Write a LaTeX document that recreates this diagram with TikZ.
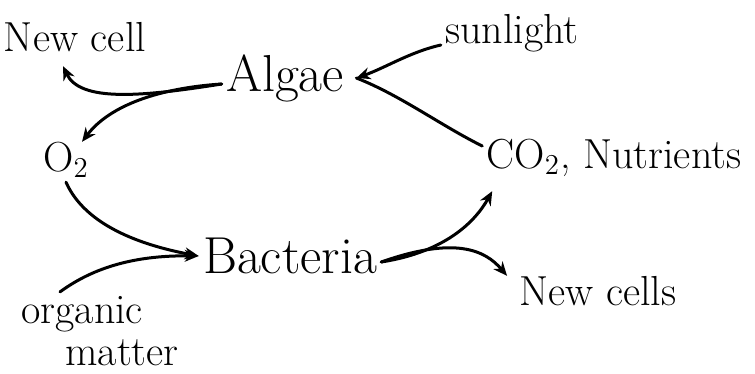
\documentclass[tikz,border=0pt]{standalone}
\usetikzlibrary{arrows.meta}
\begin{document}
\begin{tikzpicture}[x=0.5pt,y=-0.5pt,
  lbl/.style={font=\fontsize{21}{24}\selectfont, inner sep=2pt},
  biglbl/.style={font=\fontsize{26}{30}\selectfont, inner sep=2pt},
  flow/.style={line width=1.5pt, line cap=round},
  arr/.style={flow, -{Stealth[length=7pt,width=6pt]}}]
\useasboundingbox (0,0) rectangle (755,374);

% labels
\node[lbl] (newcell)    at (75,37)   {New cell};
\node[biglbl] (algae)   at (285,78)  {Algae};
\node[lbl] (sun)        at (512,33)  {sunlight};
\node[lbl] (o2)         at (66,160)  {O$_2$};
\node[lbl] (co2)        at (614,158) {CO$_2$, Nutrients};
\node[biglbl] (bacteria) at (290,256) {Bacteria};
\node[lbl] (newcells)   at (598,291) {New cells};
\node[lbl, align=left] (organic) at (100,331) {organic\\[-3pt]\hspace{22pt}matter};

% algae outputs
\draw[arr] ([yshift=-3pt]algae.west) .. controls (140,97) and (80,102) .. ([xshift=-6pt,yshift=-5pt]newcell.south);
\draw[arr] ([yshift=-3pt]algae.west) .. controls (160,88) and (110,105) .. ([xshift=8pt,yshift=-2pt]o2.north);

% algae inputs
\draw[arr] ([yshift=-6pt]sun.west) .. controls (410,52) and (385,68) .. ([xshift=4pt]algae.east);
\draw[flow] ([yshift=6pt]co2.west) .. controls (440,125) and (400,95) .. ([xshift=4pt]algae.east);

% bacteria inputs
\draw[arr] (o2.south) .. controls (85,225) and (140,245) .. (bacteria.west);
\draw[arr] ([xshift=-20pt]organic.north) .. controls (90,270) and (130,255) .. (bacteria.west);

% bacteria outputs
\draw[arr] ([yshift=-3pt]bacteria.east) .. controls (445,252) and (475,222) .. ([xshift=5pt,yshift=-5pt]co2.south west);
\draw[arr] ([yshift=-3pt]bacteria.east) .. controls (455,236) and (485,250) .. ([xshift=-4pt,yshift=-2pt]newcells.north west);
\end{tikzpicture}
\end{document}
